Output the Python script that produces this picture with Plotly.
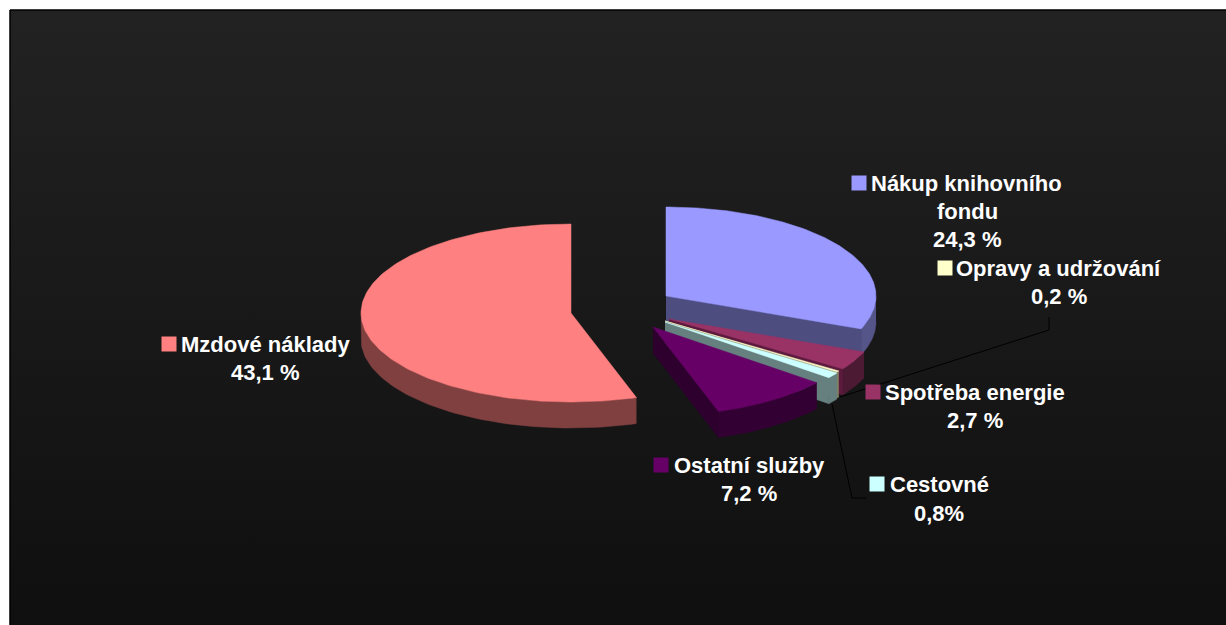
import numpy as np
import plotly.graph_objects as go

# ---- data ----
categories = ["Nákup knihovního fondu", "Spotřeba energie", "Opravy a udržování",
              "Cestovné", "Ostatní služby", "Mzdové náklady"]
values = [24.3, 2.7, 0.2, 0.8, 7.2, 43.1]
value_labels = ["24,3 %", "2,7 %", "0,2 %", "0,8%", "7,2 %", "43,1 %"]
top_colors = ["#9999FF", "#993366", "#FFFFCC", "#CCFFFF", "#660066", "#FF8080"]
side_colors = ["#55558A", "#4D1A33", "#808066", "#668080", "#330033", "#804040"]
end_colors = ["#4D4D80", "#5C1A3D", "#808066", "#668080", "#2E002E", "#804040"]

# ---- pie geometry (pixel space of the page) ----
apex_x = [666, 669, 665, 665, 653, 571]
apex_y = [296, 319, 321, 322, 327, 313]
RX, RY, DEPTH = 210, 89, 26


def ell(ax, ay, deg, dy=0.0):
    t = np.radians(deg)
    return ax + RX * np.sin(t), ay - RY * np.cos(t) + dy


def poly(fig, xs, ys, color):
    fig.add_trace(go.Scatter(x=list(xs), y=list(ys), mode="lines", fill="toself",
                             fillcolor=color, line=dict(color=color, width=0.5),
                             hoverinfo="skip", showlegend=False))


fig = go.Figure()

# background panel with vertical gradient
fig.add_trace(go.Scatter(
    x=[10, 1228, 1228, 10, 10], y=[10, 10, 627, 627, 10], mode="lines",
    fill="toself", line=dict(color="#000000", width=1.5),
    fillgradient=dict(type="vertical",
                      colorscale=[[0, "#0F0F0F"], [1, "#222222"]]),
    hoverinfo="skip", showlegend=False))

total = sum(values)
edges = np.concatenate([[0], np.cumsum(values)]) / total * 360

for i in range(len(values)):
    a0, a1 = edges[i], edges[i + 1]
    ax, ay = apex_x[i], apex_y[i]
    # outer wall: only the front half of the rim is visible
    f0, f1 = max(a0, 90), min(a1, 270)
    if f1 > f0:
        ang = np.linspace(f0, f1, 80)
        xt, yt = ell(ax, ay, ang)
        xb, yb = ell(ax, ay, ang[::-1], DEPTH)
        poly(fig, np.r_[xt, xb], np.r_[yt, yb], side_colors[i])
    # radial wall at the clockwise end of a right-hand slice
    if a1 < 180:
        ex, ey = ell(ax, ay, a1)
        poly(fig, [ax, ex, ex, ax], [ay, ey, ey + DEPTH, ay + DEPTH], end_colors[i])
    # top face
    ang = np.linspace(a0, a1, 160)
    xt, yt = ell(ax, ay, ang)
    poly(fig, np.r_[ax, xt, ax], np.r_[ay, yt, ay], top_colors[i])

# ---- leader lines ----
leader_x = [[840, 1049, 1049], [832, 852, 866]]
leader_y = [[397, 330, 317], [404, 498, 498]]
for lx, ly in zip(leader_x, leader_y):
    fig.add_trace(go.Scatter(x=lx, y=ly, mode="lines", line=dict(color="#000000", width=1),
                             hoverinfo="skip", showlegend=False))

# ---- label keys and texts ----
key_x = [859, 873, 945, 877, 661, 169]
key_y = [183, 392, 268, 484, 465, 344]
fig.add_trace(go.Scatter(x=key_x, y=key_y, mode="markers",
                         marker=dict(symbol="square", size=15, color=top_colors, line=dict(width=0)),
                         hoverinfo="skip", showlegend=False))

name_lines = [["Nákup knihovního", "fondu"], ["Spotřeba energie"], ["Opravy a udržování"],
              ["Cestovné"], ["Ostatní služby"], ["Mzdové náklady"]]
name_x = [[966, 967], [975], [1058], [939], [749], [265]]
name_y = [[183, 211], [392], [268], [484], [465], [344]]
val_x = [967, 975, 1059, 939, 749, 265]
val_y = [239, 420, 296, 513, 493, 372]

FONT = dict(family="Liberation Sans", size=22, color="#FFFFFF")
ann = []
for i in range(len(values)):
    for t, x, y in zip(name_lines[i], name_x[i], name_y[i]):
        ann.append(dict(x=x, y=y, text=f"<b>{t}</b>", showarrow=False, font=FONT,
                        xanchor="center", yanchor="middle"))
    ann.append(dict(x=val_x[i], y=val_y[i], text=f"<b>{value_labels[i]}</b>", showarrow=False,
                    font=FONT, xanchor="center", yanchor="middle"))

fig.update_layout(
    width=1226, height=625, margin=dict(l=0, r=0, t=0, b=0),
    paper_bgcolor="#FFFFFF", plot_bgcolor="#FFFFFF",
    xaxis=dict(range=[0, 1226], visible=False, fixedrange=True),
    yaxis=dict(range=[625, 0], visible=False, fixedrange=True),
    annotations=ann, showlegend=False,
)
fig.write_html("out.html", config={"displayModeBar": False},
               post_script="document.body.style.margin='0';document.documentElement.style.overflow='hidden';")
